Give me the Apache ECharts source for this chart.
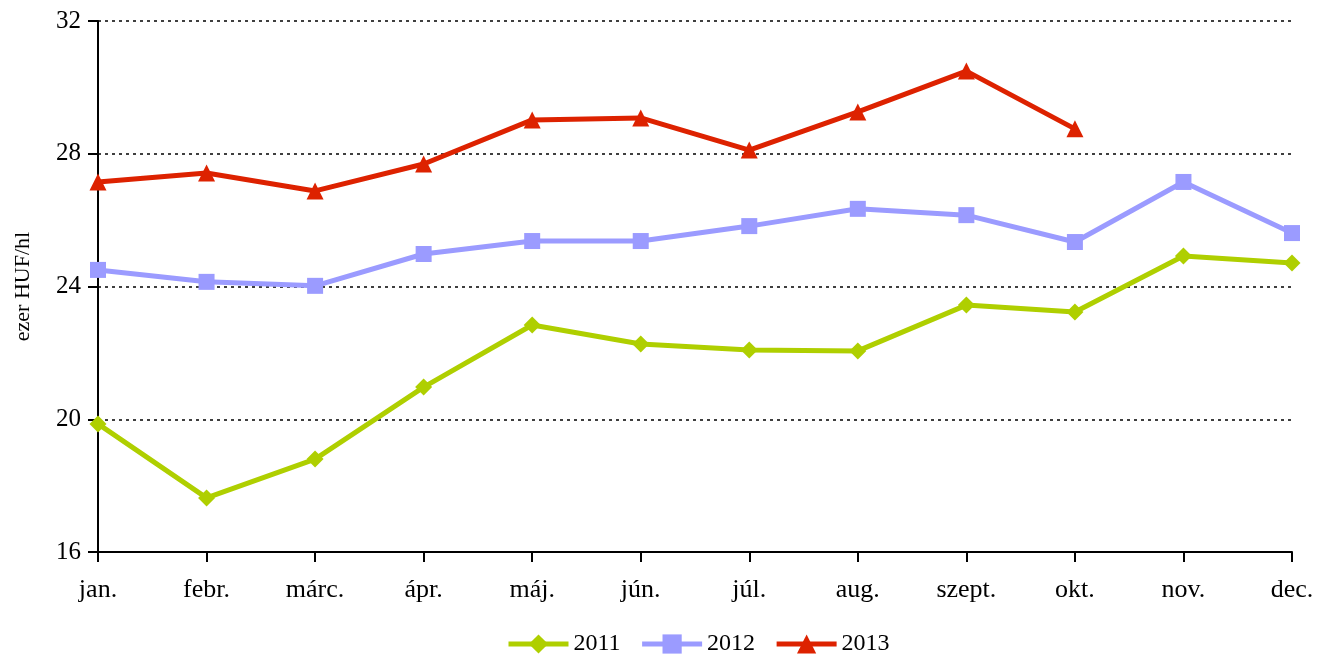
<!DOCTYPE html>
<html><head><meta charset="utf-8">
<script src="https://cdn.jsdelivr.net/npm/echarts@6/dist/echarts.min.js"></script>
<style>html,body{margin:0;padding:0;background:#fff}#c{width:1329px;height:654px}</style>
</head><body><div id="c"></div>
<script>
const months = ['jan.','febr.','márc.','ápr.','máj.','jún.','júl.','aug.','szept.','okt.','nov.','dec.'];
const s2011 = [19.86,17.63,18.8,20.97,22.84,22.27,22.09,22.06,23.44,23.23,24.92,24.71];
const s2012 = [24.5,24.14,24.02,24.98,25.37,25.37,25.82,26.34,26.15,25.34,27.15,25.61];
const s2013 = [27.15,27.42,26.88,27.69,29.02,29.08,28.11,29.26,30.49,28.75,null,null];
const yTicks = [16,20,24,28,32];
const font = 'Liberation Serif';
const chart = echarts.init(document.getElementById('c'));
function ser(name, data, color, symbol, size){
  return {name, type:'line', data, symbol, symbolSize:size, showSymbol:true,
    lineStyle:{color, width:5}, itemStyle:{color}, animation:false, connectNulls:false};
}
chart.setOption({
  animation:false,
  textStyle:{fontFamily:font},
  grid:{left:98, right:37, top:21, bottom:102},
  legend:{top:627, left:501, itemWidth:60, itemHeight:24, itemGap:19,
    lineStyle:{width:5},
    textStyle:{fontFamily:font, fontSize:24, color:'#000'},
    data:['2011','2012','2013']},
  xAxis:{type:'category', data:months, boundaryGap:false,
    axisLine:{lineStyle:{color:'#000', width:2}},
    axisTick:{show:true, length:10, lineStyle:{color:'#000', width:2}, alignWithLabel:true},
    axisLabel:{fontFamily:font, fontSize:26, color:'#000', margin:25}},
  yAxis:{type:'value', min:yTicks[0], max:yTicks[yTicks.length-1], interval:4,
    name:'ezer HUF/hl', nameLocation:'middle', nameGap:64, nameRotate:90,
    nameTextStyle:{fontFamily:font, fontSize:22, color:'#000'},
    axisLine:{show:true, lineStyle:{color:'#000', width:2}},
    axisTick:{show:true, length:10, lineStyle:{color:'#000', width:2}},
    axisLabel:{fontFamily:font, fontSize:25, color:'#000', margin:17},
    splitLine:{show:true, lineStyle:{color:'#000', type:[3,4], width:1.5}}},
  series:[
    ser('2011', s2011, '#afcf00', 'diamond', 17),
    ser('2012', s2012, '#9b9bff', 'rect', 16),
    ser('2013', s2013, '#dd2200', 'triangle', 17)
  ]
});
</script></body></html>
